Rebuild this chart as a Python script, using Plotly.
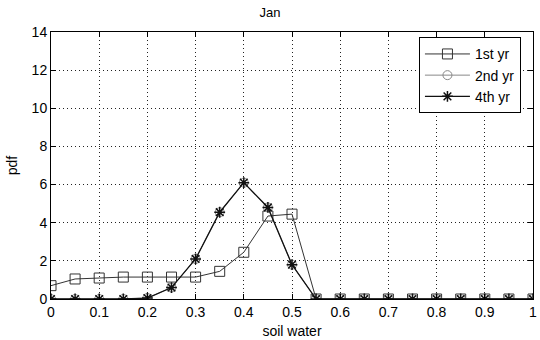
import plotly.graph_objects as go

x_vals = [0, 0.05, 0.1, 0.15, 0.2, 0.25, 0.3, 0.35, 0.4, 0.45, 0.5,
          0.55, 0.6, 0.65, 0.7, 0.75, 0.8, 0.85, 0.9, 0.95, 1.0]
yr1 = [0.7, 1.05, 1.1, 1.15, 1.15, 1.15, 1.15, 1.45, 2.45, 4.35, 4.45,
       0, 0, 0, 0, 0, 0, 0, 0, 0, 0]
yr2 = [0, 0, 0, 0, 0.05, 0.6, 2.1, 4.55, 6.1, 4.8, 1.8,
       0, 0, 0, 0, 0, 0, 0, 0, 0, 0]
yr4 = [0, 0, 0, 0, 0.05, 0.6, 2.1, 4.55, 6.1, 4.8, 1.8,
       0, 0, 0, 0, 0, 0, 0, 0, 0, 0]
x_ticks = [0, 0.1, 0.2, 0.3, 0.4, 0.5, 0.6, 0.7, 0.8, 0.9, 1]
x_tick_text = ["0", "0.1", "0.2", "0.3", "0.4", "0.5", "0.6", "0.7", "0.8", "0.9", "1"]
y_ticks = [0, 2, 4, 6, 8, 10, 12, 14]

font_family = "Liberation Sans, Arial, sans-serif"

fig = go.Figure()
fig.add_trace(go.Scatter(
    x=x_vals, y=yr1, name="1st yr", mode="lines+markers",
    line=dict(color="#333333", width=1),
    marker=dict(symbol="square-open", size=10, color="#333333", line=dict(width=1))))
fig.add_trace(go.Scatter(
    x=x_vals, y=yr2, name="2nd yr", mode="lines+markers",
    line=dict(color="#888888", width=1),
    marker=dict(symbol="circle-open", size=9, color="#888888", line=dict(width=1))))
fig.add_trace(go.Scatter(
    x=x_vals, y=yr4, name="4th yr", mode="lines+markers",
    line=dict(color="#111111", width=1.3),
    marker=dict(symbol="asterisk-open", size=9, color="#111111", line=dict(width=1.5))))

fig.update_layout(
    width=540, height=340,
    margin=dict(l=51, r=3, t=32, b=41),
    paper_bgcolor="white", plot_bgcolor="white",
    font=dict(family=font_family, size=14, color="black"),
    title=dict(text="Jan", x=0.5, xanchor="center", y=0.963, yanchor="middle",
               font=dict(size=13, family=font_family, color="black")),
    showlegend=True,
    legend=dict(x=0.975, y=0.98, xanchor="right", yanchor="top",
                bgcolor="white", bordercolor="black", borderwidth=1,
                font=dict(size=14, family=font_family, color="black"),
                tracegroupgap=0, itemwidth=45),
)
fig.update_xaxes(
    range=[0, 1], tickvals=x_ticks, ticktext=x_tick_text,
    ticklabeloverflow="allow",
    showline=True, linecolor="black", linewidth=1, mirror="ticks",
    ticks="inside", ticklen=5, tickcolor="black",
    showgrid=True, gridcolor="#222222", griddash="1px,3px", gridwidth=1,
    zeroline=False,
    title=dict(text="soil water", font=dict(size=14, family=font_family), standoff=7),
)
fig.update_yaxes(
    range=[0, 14], tickvals=y_ticks,
    showline=True, linecolor="black", linewidth=1, mirror="ticks",
    ticks="inside", ticklen=5, tickcolor="black",
    showgrid=True, gridcolor="#222222", griddash="1px,3px", gridwidth=1,
    zeroline=False,
    title=dict(text="pdf", font=dict(size=14, family=font_family), standoff=10),
)

fig.write_html("out.html")
